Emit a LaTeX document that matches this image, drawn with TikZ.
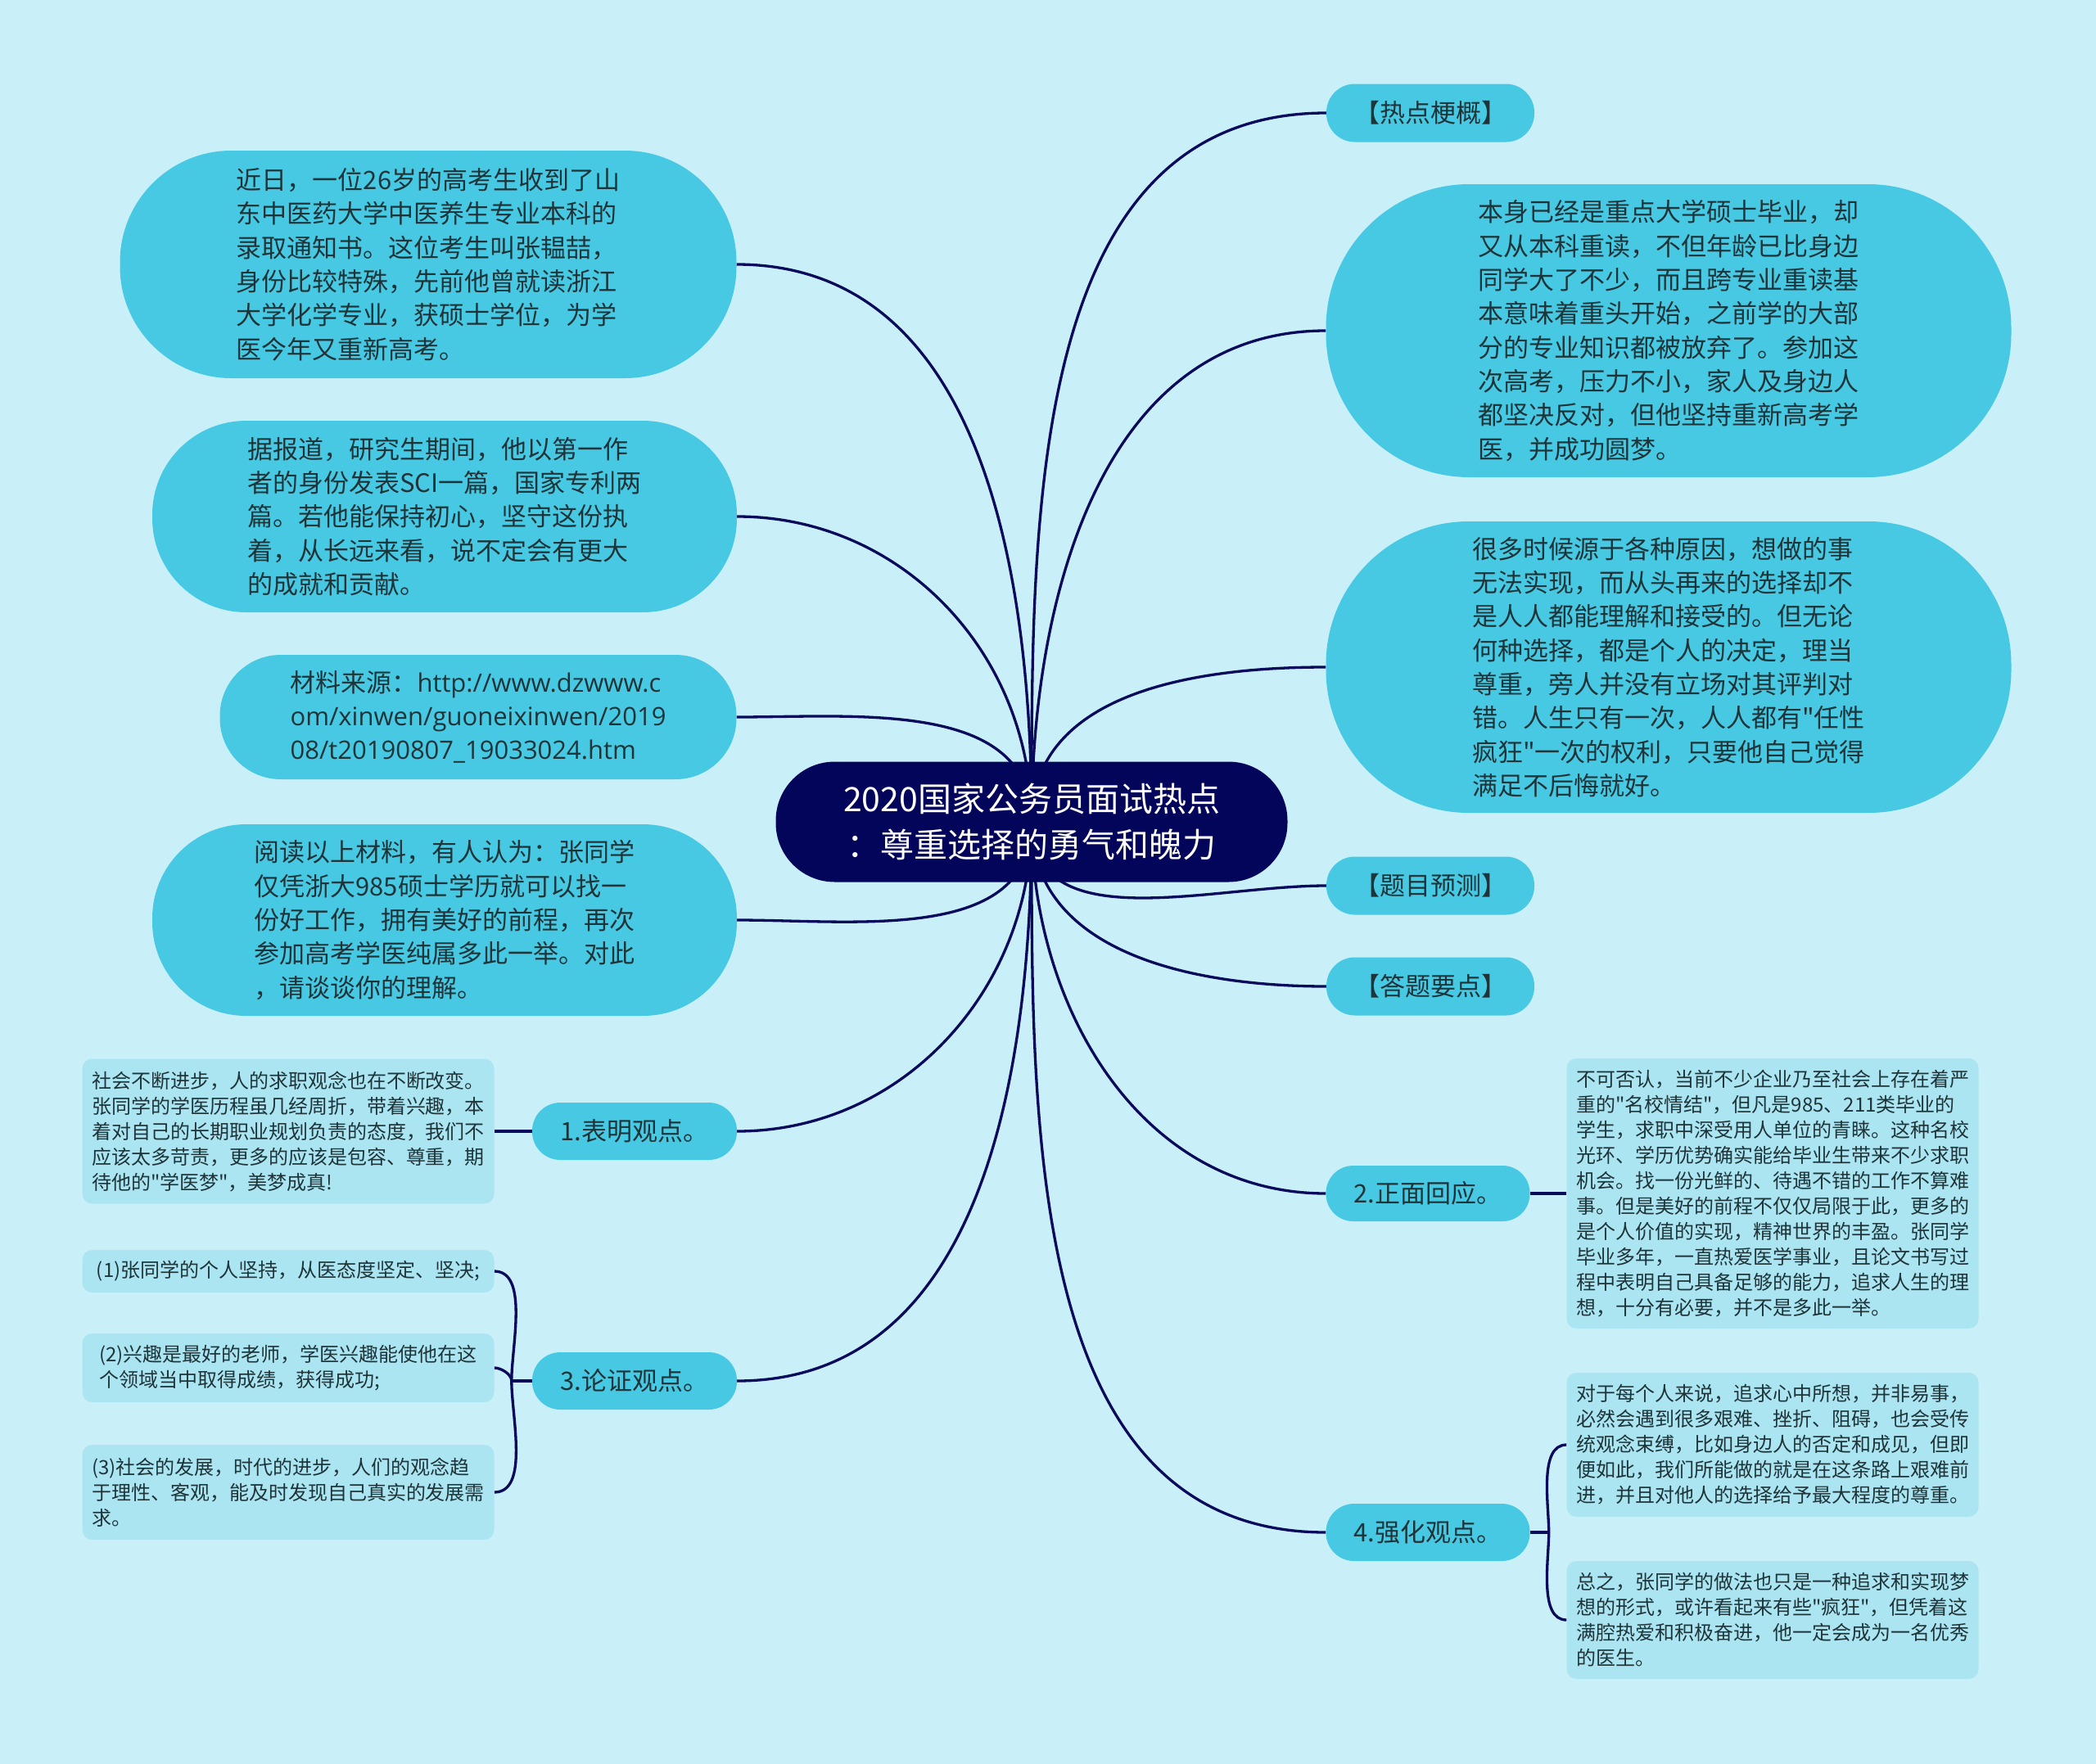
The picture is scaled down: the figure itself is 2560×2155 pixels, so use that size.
\documentclass[tikz,border=0pt]{standalone}
\usepackage{fontspec}
\setmainfont{Noto Sans CJK SC}[Ligatures=TeXOff]
\newfontfamily\urlfont{Open Sans}
\usepackage{xcolor}
\usetikzlibrary{backgrounds}

\definecolor{bgc}{HTML}{C9F0F8}
\definecolor{hubc}{HTML}{02055A}
\definecolor{nodec}{HTML}{48C9E3}
\definecolor{leafc}{HTML}{ACE5F2}
\definecolor{linec}{HTML}{0A0A5C}
\definecolor{txtc}{HTML}{1E3438}

\begin{document}
\begin{tikzpicture}[x=1pt, y=1pt,
  pill/.style 2 args={minimum width=#1pt, minimum height=#2pt, rounded corners=#2*0.49pt},
  hubnode/.style={fill=hubc, text=white, pill={625}{147}, inner sep=0pt, align=center,
    font=\fontsize{41}{56}\selectfont},
  topic/.style={fill=nodec, text=txtc, inner sep=0pt, align=left,
    font=\fontsize{31}{41.3}\selectfont},
  tag/.style={topic, pill={254}{71}},
  leaf/.style={fill=leafc, text=txtc, rounded corners=12pt, inner sep=0pt, align=left,
    minimum width=503pt, font=\fontsize{24}{31}\selectfont},
  link/.style={draw=linec, line width=3.3pt}]
  \useasboundingbox (0,0) rectangle (2560,-2155);

  % centre
  \node[hubnode] (hub) at (1260,-1004) {2020国家公务员面试热点\\：尊重选择的勇气和魄力};

  % right branch
  \node[tag] (hot) at (1747,-138) {【热点梗概】};
  \node[topic, pill={837}{358}] (rA) at (2038,-404) {本身已经是重点大学硕士毕业，却\\又从本科重读，不但年龄已比身边\\同学大了不少，而且跨专业重读基\\本意味着重头开始，之前学的大部\\分的专业知识都被放弃了。参加这\\次高考，压力不小，家人及身边人\\都坚决反对，但他坚持重新高考学\\医，并成功圆梦。};
  \node[topic, pill={837}{356}] (rB) at (2038,-815) {很多时候源于各种原因，想做的事\\无法实现，而从头再来的选择却不\\是人人都能理解和接受的。但无论\\何种选择，都是个人的决定，理当\\尊重，旁人并没有立场对其评判对\\错。人生只有一次，人人都有"任性\\疯狂"一次的权利，只要他自己觉得\\满足不后悔就好。};
  \node[tag] (pred) at (1747,-1082) {【题目预测】};
  \node[tag] (keys) at (1747,-1205) {【答题要点】};
  \node[tag, pill={249}{68}] (s2) at (1744,-1458) {2.正面回应。};
  \node[tag, pill={249}{70}] (s4) at (1744,-1872) {4.强化观点。};

  \node[leaf, minimum height=330pt] (d2) at (2165,-1458) {不可否认，当前不少企业乃至社会上存在着严\\重的"名校情结"，但凡是985、211类毕业的\\学生，求职中深受用人单位的青睐。这种名校\\光环、学历优势确实能给毕业生带来不少求职\\机会。找一份光鲜的、待遇不错的工作不算难\\事。但是美好的前程不仅仅局限于此，更多的\\是个人价值的实现，精神世界的丰盈。张同学\\毕业多年，一直热爱医学事业，且论文书写过\\程中表明自己具备足够的能力，追求人生的理\\想，十分有必要，并不是多此一举。};
  \node[leaf, minimum height=176pt] (d4a) at (2165,-1765) {对于每个人来说，追求心中所想，并非易事，\\必然会遇到很多艰难、挫折、阻碍，也会受传\\统观念束缚，比如身边人的否定和成见，但即\\便如此，我们所能做的就是在这条路上艰难前\\进，并且对他人的选择给予最大程度的尊重。};
  \node[leaf, minimum height=144pt] (d4b) at (2165,-1979) {总之，张同学的做法也只是一种追求和实现梦\\想的形式，或许看起来有些"疯狂"，但凭着这\\满腔热爱和积极奋进，他一定会成为一名优秀\\的医生。};

  % left branch
  \node[topic, pill={753}{278}] (lA) at (523,-323) {近日，一位26岁的高考生收到了山\\东中医药大学中医养生专业本科的\\录取通知书。这位考生叫张韫喆，\\身份比较特殊，先前他曾就读浙江\\大学化学专业，获硕士学位，为学\\医今年又重新高考。};
  \node[topic, pill={714}{234}] (lB) at (543,-631) {据报道，研究生期间，他以第一作\\者的身份发表SCI一篇，国家专利两\\篇。若他能保持初心，坚守这份执\\着，从长远来看，说不定会有更大\\的成就和贡献。};
  \node[topic, pill={631}{152}] (lC) at (584,-876) {材料来源：{\urlfont http://www.dzwww.c}\\{\urlfont om/xinwen/guoneixinwen/2019}\\{\urlfont 08/t20190807\_19033024.htm}};
  \node[topic, pill={714}{234}] (lD) at (543,-1124) {阅读以上材料，有人认为：张同学\\仅凭浙大985硕士学历就可以找一\\份好工作，拥有美好的前程，再次\\参加高考学医纯属多此一举。对此\\，请谈谈你的理解。};
  \node[tag, pill={250}{70}] (s1) at (775,-1382) {1.表明观点。};
  \node[tag, pill={250}{70}] (s3) at (775,-1687) {3.论证观点。};

  \node[leaf, minimum height=177pt] (d1) at (352,-1382) {社会不断进步，人的求职观念也在不断改变。\\张同学的学医历程虽几经周折，带着兴趣，本\\着对自己的长期职业规划负责的态度，我们不\\应该太多苛责，更多的应该是包容、尊重，期\\待他的"学医梦"，美梦成真!};
  \node[leaf, minimum height=52pt] (d3a) at (352,-1553) {(1)张同学的个人坚持，从医态度坚定、坚决;};
  \node[leaf, minimum height=84pt] (d3b) at (352,-1671) {(2)兴趣是最好的老师，学医兴趣能使他在这\\个领域当中取得成绩，获得成功;};
  \node[leaf, minimum height=116pt] (d3c) at (352,-1823) {(3)社会的发展，时代的进步，人们的观念趋\\于理性、客观，能及时发现自己真实的发展需\\求。};

  \begin{scope}[on background layer]
    \fill[bgc] (0,0) rectangle (2560,-2155);
    % hub to topics
    \foreach \n/\a in {hot/90, rA/90, rB/90, pred/-90, keys/-90, s2/-90, s4/-90}
      \draw[link] (hub.center) to[out=\a, in=180] (\n.west);
    \foreach \n/\a in {lA/90, lB/90, lC/90, lD/-90, s1/-90, s3/-90}
      \draw[link] (hub.center) to[out=\a, in=0] (\n.east);
    % topics to leaves
    \draw[link] (s1.west) -- (d1.east);
    \draw[link] (s2.east) -- (d2.west);
    \draw[link] (s4.east) -- ++(23,0) coordinate (j4);
    \draw[link] (j4) to[out=90, in=180, looseness=0.8] (d4a.west);
    \draw[link] (j4) to[out=-90, in=180, looseness=0.8] (d4b.west);
    \draw[link] (s3.west) -- ++(-25,0) coordinate (j3);
    \foreach \n/\a in {d3a/90, d3b/90, d3c/-90}
      \draw[link] (j3) to[out=\a, in=0, looseness=0.8] (\n.east);
  \end{scope}
\end{tikzpicture}
\end{document}
